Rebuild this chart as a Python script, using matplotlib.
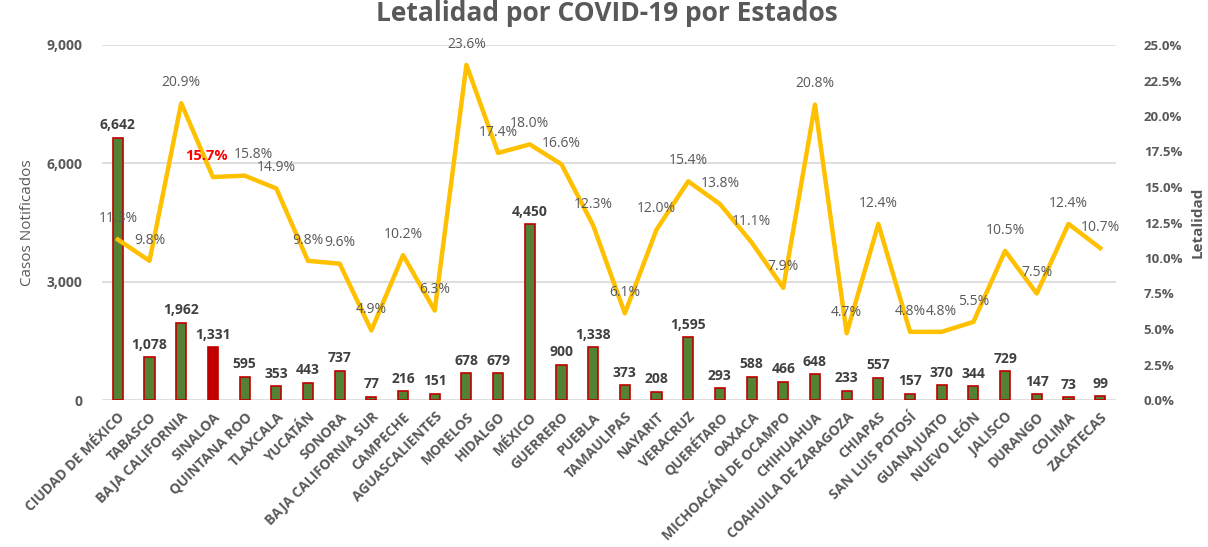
import numpy as np
import matplotlib.pyplot as plt
from matplotlib.ticker import FuncFormatter, PercentFormatter

plt.rcParams['font.family'] = ['Open Sans', 'DejaVu Sans']

estados = ['CIUDAD DE MÉXICO', 'TABASCO', 'BAJA CALIFORNIA', 'SINALOA', 'QUINTANA ROO',
           'TLAXCALA', 'YUCATÁN', 'SONORA', 'BAJA CALIFORNIA SUR', 'CAMPECHE',
           'AGUASCALIENTES', 'MORELOS', 'HIDALGO', 'MÉXICO', 'GUERRERO', 'PUEBLA',
           'TAMAULIPAS', 'NAYARIT', 'VERACRUZ', 'QUERÉTARO', 'OAXACA',
           'MICHOACÁN DE OCAMPO', 'CHIHUAHUA', 'COAHUILA DE ZARAGOZA', 'CHIAPAS',
           'SAN LUIS POTOSÍ', 'GUANAJUATO', 'NUEVO LEÓN', 'JALISCO', 'DURANGO',
           'COLIMA', 'ZACATECAS']
casos = [6642, 1078, 1962, 1331, 595, 353, 443, 737, 77, 216, 151, 678, 679, 4450,
         900, 1338, 373, 208, 1595, 293, 588, 466, 648, 233, 557, 157, 370, 344,
         729, 147, 73, 99]
letalidad = [11.3, 9.8, 20.9, 15.7, 15.8, 14.9, 9.8, 9.6, 4.9, 10.2, 6.3, 23.6, 17.4,
             18.0, 16.6, 12.3, 6.1, 12.0, 15.4, 13.8, 11.1, 7.9, 20.8, 4.7, 12.4, 4.8,
             4.8, 5.5, 10.5, 7.5, 12.4, 10.7]
destacado = 'SINALOA'

gris = '#595959'
verde = '#548235'
rojo = '#C00000'
amarillo = '#FFC000'

fig = plt.figure(figsize=(12.08, 5.47), dpi=100)
ax = fig.add_axes([102/1208, 147/547, 1014/1208, 355/547])
x = np.arange(len(estados))

colores = [rojo if e == destacado else verde for e in estados]
ax.bar(x, casos, width=0.32, color=colores, edgecolor=rojo, linewidth=1.2, zorder=2)
for xi, c in zip(x, casos):
    ax.annotate(f'{c:,}', (xi, c), xytext=(0, 4), textcoords='offset points',
                ha='center', va='bottom', fontsize=10, fontweight='bold', color='#404040')

ax.set_xlim(-0.5, len(estados) - 0.5)
ax.set_ylim(0, 9000)
ax.set_yticks([0, 3000, 6000, 9000])
ax.yaxis.set_major_formatter(FuncFormatter(lambda v, p: f'{int(v):,}'))
ax.grid(axis='y', color='#D9D9D9', linewidth=1.2, zorder=0)
ax.set_axisbelow(True)
for s in ax.spines.values():
    s.set_visible(False)
ax.tick_params(length=0, colors=gris)
ax.set_xticks(x)
ax.set_xticklabels(estados, rotation=45, ha='right', rotation_mode='anchor',
                   fontsize=10, fontweight='bold', color=gris)
for lab in ax.get_yticklabels():
    lab.set_fontweight('bold')
    lab.set_fontsize(10)
ax.tick_params(axis='y', pad=14)
ax.tick_params(axis='x', pad=7)
ax.set_ylabel('Casos Notificados', fontsize=11, color=gris, labelpad=8)

ax2 = ax.twinx()
ax2.plot(x, letalidad, color=amarillo, linewidth=3.2, zorder=3)
ax2.set_ylim(0, 25)
ax2.set_yticks(np.arange(0, 25.1, 2.5))
ax2.yaxis.set_major_formatter(PercentFormatter(decimals=1))
for s in ax2.spines.values():
    s.set_visible(False)
ax2.tick_params(length=0, colors=gris, pad=20)
for lab in ax2.get_yticklabels():
    lab.set_fontweight('bold')
    lab.set_fontsize(9.5)
ax2.set_ylabel('Letalidad', fontsize=11, fontweight='bold', color=gris, labelpad=6)

# desplazamientos horizontales pequenos para que no se encimen
dx = {3: -5, 4: 6}
for i, (xi, v, e) in enumerate(zip(x, letalidad, estados)):
    off = (dx.get(i, 0), 15)
    if e == destacado:
        ax2.annotate(f'{v:.1f}%', (xi, v), xytext=off, textcoords='offset points',
                     ha='center', va='center', fontsize=10.5, fontweight='bold', color='#FF0000')
    else:
        ax2.annotate(f'{v:.1f}%', (xi, v), xytext=off, textcoords='offset points',
                     ha='center', va='center', fontsize=10, color=gris)

fig.text(0.502, 1 - 21/547, 'Letalidad por COVID-19 por Estados', ha='center',
         va='baseline', fontsize=19, fontweight='bold', color=gris)

fig.savefig('out.png', dpi=100)
